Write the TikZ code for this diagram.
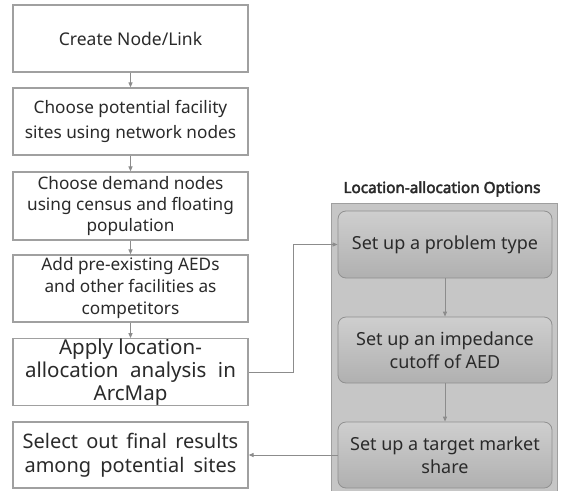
\documentclass[tikz,border=0pt]{standalone}
\usepackage{fontspec}
\setmainfont{Noto Sans}
\newfontfamily\titlefont{Noto Sans}[FakeBold=3]
\usetikzlibrary{arrows.meta,shadings}
\definecolor{txt}{HTML}{2A2A2A}
\definecolor{bord}{HTML}{A0A0A0}
\definecolor{arr}{HTML}{8C8C8C}
\tikzset{
  lbox/.style={draw=bord, line width=1.2pt, fill=white, text=txt, align=center, inner sep=0pt},
  rbox/.style={draw=bord!90!black, line width=0.8pt, rounded corners=8pt, top color=gray!38, bottom color=gray!62, text=txt, align=center, inner sep=0pt},
  conn/.style={draw=arr, line width=1pt, -{Triangle[length=5pt,width=4pt]}},
}
\begin{document}
\begin{tikzpicture}[x=1pt,y=-1pt]
\useasboundingbox (0,0) rectangle (564,490);
\fill[white] (0,0) rectangle (564,490);
% panel
\node[draw=gray!75, line width=0.8pt, fill=gray!45, minimum width=226pt, minimum height=288pt, inner sep=0pt] (panel) at (444.5,347) {};
\node[font=\titlefont\fontsize{15.3}{18}\selectfont, text=txt] (ptitle) at (442,189) {Location-allocation Options};
% left boxes
\node[lbox, minimum width=235pt, minimum height=67pt, font=\fontsize{17.5}{20}\selectfont] (b1) at (130.5,38.5) {Create Node/Link};
\node[lbox, minimum width=235pt, minimum height=67pt, font=\fontsize{17.2}{25}\selectfont] (b2) at (130.5,121.5) {Choose potential facility\\sites using network nodes};
\node[lbox, minimum width=235pt, minimum height=68pt, font=\fontsize{17.2}{21}\selectfont] (b3) at (130.5,206) {Choose demand nodes\\using census and floating\\population};
\node[lbox, minimum width=235pt, minimum height=67pt, font=\fontsize{17.2}{22}\selectfont] (b4) at (130.5,288.5) {Add pre-existing AEDs\\and other facilities as\\competitors};
\node[lbox, minimum width=235pt, minimum height=66pt, font=\fontsize{20.5}{23}\selectfont] (b5) at (130.5,372) {Apply location-\\allocation\hspace{0.3em} analysis\hspace{0.3em} in\\ArcMap};
\node[lbox, minimum width=235pt, minimum height=66pt, font=\fontsize{20}{24}\selectfont] (b6) at (130.5,455) {Select\hspace{0.15em} out\hspace{0.15em} final\hspace{0.15em} results\\among\hspace{0.2em} potential\hspace{0.2em} sites};
% right boxes
\node[rbox, minimum width=214pt, minimum height=67pt, font=\fontsize{18}{23}\selectfont] (r1) at (445,244.5) {Set up a problem type};
\node[rbox, minimum width=214pt, minimum height=66pt, font=\fontsize{18}{23}\selectfont] (r2) at (445,350) {Set up an impedance\\cutoff of AED};
\node[rbox, minimum width=214pt, minimum height=66pt, font=\fontsize{18}{23}\selectfont] (r3) at (445,455) {Set up a target market\\share};
% connectors
\draw[conn] (b1) -- (b2);
\draw[conn] (b2) -- (b3);
\draw[conn] (b3) -- (b4);
\draw[conn] (b4) -- (b5);
\coordinate (k) at (293,244.5);
\draw[conn] (b5.east) -| (k) -- (r1.west);
\draw[conn] (r1) -- (r2);
\draw[conn] (r2) -- (r3);
\draw[conn] (r3.west) -- (b6.east);
\end{tikzpicture}
\end{document}
